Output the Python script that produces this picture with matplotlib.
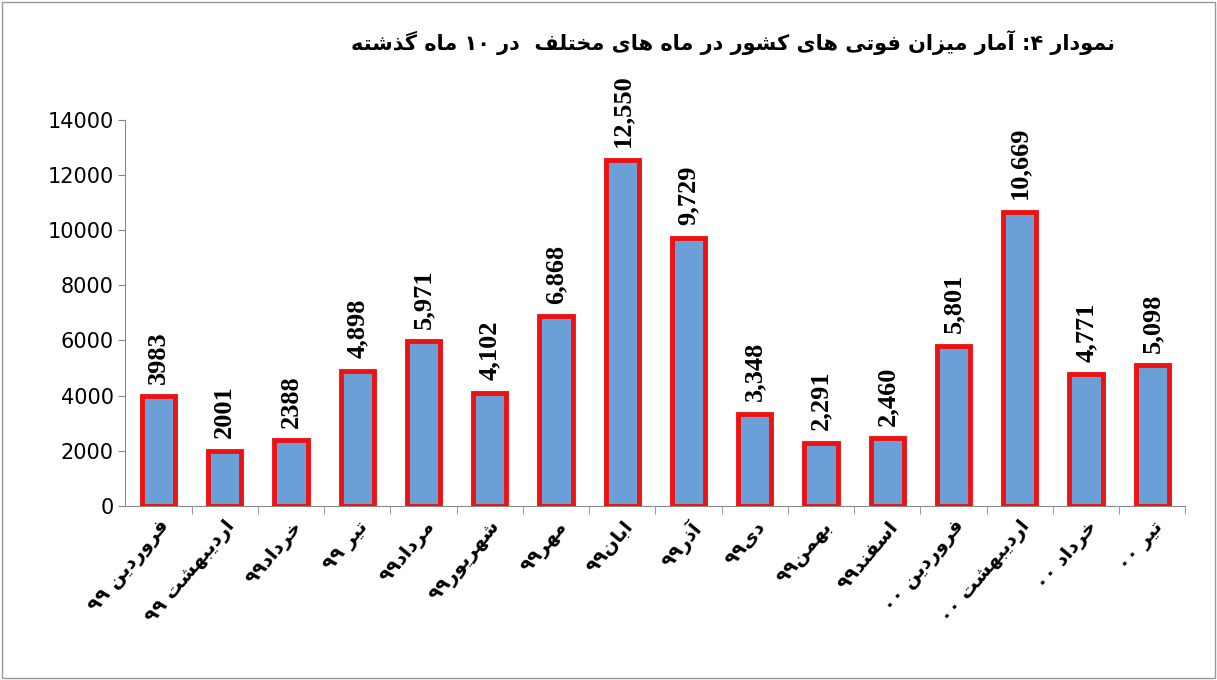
import matplotlib
matplotlib.use("Agg")
import matplotlib.pyplot as plt
import re

# ---- minimal Arabic/Persian shaping ----
F = {
 'ا':(0xFE8D,0xFE8E,None,None),'آ':(0xFE81,0xFE82,None,None),
 'ب':(0xFE8F,0xFE90,0xFE91,0xFE92),'ت':(0xFE95,0xFE96,0xFE97,0xFE98),
 'ح':(0xFEA1,0xFEA2,0xFEA3,0xFEA4),'خ':(0xFEA5,0xFEA6,0xFEA7,0xFEA8),
 'د':(0xFEA9,0xFEAA,None,None),'ذ':(0xFEAB,0xFEAC,None,None),
 'ر':(0xFEAD,0xFEAE,None,None),'ز':(0xFEAF,0xFEB0,None,None),
 'س':(0xFEB1,0xFEB2,0xFEB3,0xFEB4),'ش':(0xFEB5,0xFEB6,0xFEB7,0xFEB8),
 'ف':(0xFED1,0xFED2,0xFED3,0xFED4),'ل':(0xFEDD,0xFEDE,0xFEDF,0xFEE0),
 'م':(0xFEE1,0xFEE2,0xFEE3,0xFEE4),'ن':(0xFEE5,0xFEE6,0xFEE7,0xFEE8),
 'ه':(0xFEE9,0xFEEA,0xFEEB,0xFEEC),'و':(0xFEED,0xFEEE,None,None),
 'پ':(0xFB56,0xFB57,0xFB58,0xFB59),'ک':(0xFB8E,0xFB8F,0xFB90,0xFB91),
 'گ':(0xFB92,0xFB93,0xFB94,0xFB95),'ی':(0xFBFC,0xFBFD,0xFBFE,0xFBFF),
}
def shape(s):
    out = []
    for i, c in enumerate(s):
        if c not in F:
            out.append(c); continue
        iso, fin, ini, med = F[c]
        prev = s[i-1] if i > 0 else ''
        nxt = s[i+1] if i+1 < len(s) else ''
        jp = prev in F and F[prev][2] is not None
        jn = nxt in F and ini is not None
        if jp and jn: ch = med
        elif jp: ch = fin
        elif jn: ch = ini
        else: ch = iso
        out.append(chr(ch))
    return out
def fa(s):
    chars = shape(s)
    tokens = re.findall(r'[0-9۰-۹]+|[^0-9۰-۹]', ''.join(chars))
    return ''.join(reversed(tokens))

categories = ["فروردین ۹۹", "اردیبهشت ۹۹", "خرداد۹۹", "تیر ۹۹", "مرداد۹۹", "شهریور۹۹",
              "مهر۹۹", "ابان۹۹", "آذر۹۹", "دی۹۹", "بهمن۹۹", "اسفند۹۹",
              "فروردین ۰۰", "اردیبهشت ۰۰", "خرداد ۰۰", "تیر ۰۰"]
values = [3983, 2001, 2388, 4898, 5971, 4102, 6868, 12550, 9729, 3348, 2291, 2460,
          5801, 10669, 4771, 5098]
value_labels = ["3983", "2001", "2388", "4,898", "5,971", "4,102", "6,868", "12,550",
                "9,729", "3,348", "2,291", "2,460", "5,801", "10,669", "4,771", "5,098"]
title = "نمودار ۴: آمار میزان فوتی های کشور در ماه های مختلف  در ۱۰ ماه گذشته"

fig = plt.figure(figsize=(12.17, 6.8), dpi=100)
ax = fig.add_axes([0.103, 0.256, 0.871, 0.568])
x = list(range(len(values)))
ax.bar(x, values, width=0.5, color='#6a9fd8', edgecolor='#ee1111', linewidth=3.5)
for xi, v, lab in zip(x, values, value_labels):
    ax.text(xi, v + 450, lab, rotation=90, ha='center', va='bottom',
            fontsize=19, fontweight='bold', family='Liberation Serif')
ax.set_xlim(-0.5, len(values) - 0.5)
ax.set_ylim(0, 14000)
ax.set_yticks(range(0, 14001, 2000))
ax.tick_params(axis='y', labelsize=15, length=5, color='#888888')
ax.set_xticks([i + 0.5 for i in x[:-1]] + [len(values) - 0.5], minor=True)
ax.set_xticks(x)
ax.set_xticklabels([fa(c) for c in categories], rotation=50, ha='right',
                   rotation_mode='anchor', fontsize=14, fontweight='bold',
                   family='DejaVu Sans')
ax.tick_params(axis='x', which='major', length=0, pad=8)
ax.tick_params(axis='x', which='minor', length=6, color='#888888')
for s in ['top', 'right']:
    ax.spines[s].set_visible(False)
for s in ['left', 'bottom']:
    ax.spines[s].set_color('#888888')
fig.text(0.602, 0.938, fa(title), ha='center', va='center', fontsize=15,
         fontweight='bold', family='DejaVu Sans')
fig.patches.append(plt.Rectangle((0.002, 0.003), 0.996, 0.994, transform=fig.transFigure,
                                 fill=False, edgecolor='#999999', linewidth=1))
fig.savefig('out.png', dpi=100)
